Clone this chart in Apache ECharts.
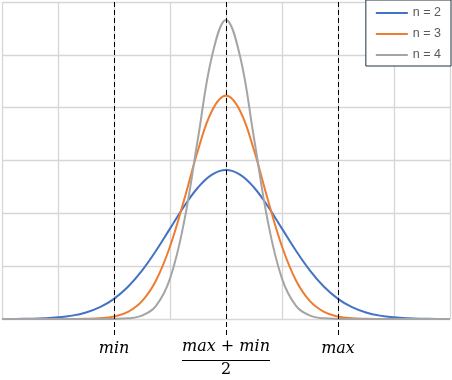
<!DOCTYPE html>
<html><head><meta charset="utf-8">
<script src="https://cdn.jsdelivr.net/npm/echarts@6/dist/echarts.min.js"></script>
<style>html,body{margin:0;padding:0;background:#fff}#c{width:452px;height:380px}</style>
</head><body><div id="c"></div>
<script>
const xValues = [-4,-3.75,-3.5,-3.25,-3,-2.75,-2.5,-2.25,-2,-1.75,-1.5,-1.25,-1,-0.75,-0.5,-0.25,0,
  0.25,0.5,0.75,1,1.25,1.5,1.75,2,2.25,2.5,2.75,3,3.25,3.5,3.75,4];
const seriesNames = ['n = 2', 'n = 3', 'n = 4'];
const n2Values = [0.0001,0.0002,0.0006,0.0014,0.0031,0.0064,0.0124,0.0224,0.0382,0.0610,0.0916,0.1291,0.1710,0.2129,0.2489,0.2733,0.2820,
  0.2733,0.2489,0.2129,0.1710,0.1291,0.0916,0.0610,0.0382,0.0224,0.0124,0.0064,0.0031,0.0014,0.0006,0.0002,0.0001];
const n3Values = [0,0,0,0,0,0.0001,0.0004,0.0014,0.0047,0.0135,0.0337,0.0729,0.1373,0.2247,0.3193,0.3943,0.4230,
  0.3943,0.3193,0.2247,0.1373,0.0729,0.0337,0.0135,0.0047,0.0014,0.0004,0.0001,0,0,0,0,0];
const n4Values = [0,0,0,0,0,0,0,0,0.0002,0.0012,0.0063,0.0248,0.0763,0.1831,0.3421,0.4977,0.5660,
  0.4977,0.3421,0.1831,0.0763,0.0248,0.0063,0.0012,0.0002,0,0,0,0,0,0,0,0];
const markerX = [-2, 0, 2];
const xTickValues = [-2, 0, 2];
const xTickLabels = [{num: 'min'}, {num: 'max + min', den: '2'}, {num: 'max'}];

const colors = ['#4472C4', '#ED7D31', '#A5A5A5'];
const allValues = [n2Values, n3Values, n4Values];

function formatLabel(value) {
  const i = xTickValues.indexOf(value);
  if (i < 0) return '';
  const lab = xTickLabels[i];
  if (!lab.den) return '{s|' + lab.num + '}';
  let num = '';
  lab.num.split(' ').forEach(p => {
    if (/^[a-z]+$/.test(p)) num += '{i|' + p + '}';
    else num += '{u|\u00A0' + p + '\u00A0}';
  });
  return num + '\n{bar|\u00A0}\n{d|' + lab.den + '}';
}

const chart = echarts.init(document.getElementById('c'), null, {renderer: 'canvas'});
const series = seriesNames.map((name, k) => ({
  name: name,
  type: 'line',
  xAxisIndex: 0, yAxisIndex: 0,
  data: xValues.map((x, j) => [x, allValues[k][j]]),
  smooth: 0.4,
  symbol: 'none',
  lineStyle: {width: 2, color: colors[k]},
  itemStyle: {color: colors[k]},
  z: 3
}));
series.push({
  type: 'line',
  xAxisIndex: 1, yAxisIndex: 1,
  data: [],
  silent: true,
  z: 10,
  markLine: {
    silent: true,
    symbol: 'none',
    label: {show: false},
    lineStyle: {color: '#000', width: 1, type: [5, 3]},
    data: markerX.map(x => ({xAxis: x}))
  }
});

chart.setOption({
  animation: false,
  backgroundColor: '#fff',
  grid: [
    {left: 2, right: 2, top: 2, bottom: 61},
    {left: 2, right: 2, top: 0, bottom: 45}
  ],
  xAxis: [
    {
      type: 'value', gridIndex: 0, min: -4, max: 4, interval: 1,
      axisLine: {show: true, lineStyle: {color: '#d9d9d9', width: 1}},
      axisTick: {show: false},
      splitLine: {show: true, lineStyle: {color: '#d6d6d6', width: 1.3}},
      axisLabel: {
        show: true,
        customValues: xTickValues,
        margin: 19,
        color: '#000',
        fontFamily: 'DejaVu Serif',
        fontSize: 16,
        formatter: formatLabel,
        rich: {
          s: {fontFamily: 'DejaVu Serif', fontStyle: 'italic', fontSize: 16, lineHeight: 21, align: 'center', color: '#000'},
          i: {fontFamily: 'DejaVu Serif', fontStyle: 'italic', fontSize: 16, lineHeight: 18, align: 'center', color: '#000'},
          u: {fontFamily: 'DejaVu Serif', fontSize: 16, lineHeight: 18, align: 'center', color: '#000'},
          bar: {width: 88, height: 1, lineHeight: 9, backgroundColor: '#000', align: 'center', fontSize: 1},
          d: {fontFamily: 'DejaVu Serif', fontSize: 16, lineHeight: 10, align: 'center', color: '#000'}
        }
      }
    },
    {type: 'value', gridIndex: 1, min: -4, max: 4, show: false}
  ],
  yAxis: [
    {
      type: 'value', gridIndex: 0, min: 0, max: 0.6, interval: 0.1,
      axisLine: {show: false}, axisTick: {show: false}, axisLabel: {show: false},
      splitLine: {show: true, lineStyle: {color: '#d6d6d6', width: 1.3}}
    },
    {type: 'value', gridIndex: 1, min: 0, max: 1, show: false}
  ],
  legend: {
    data: seriesNames,
    orient: 'vertical',
    right: 1, top: 0,
    padding: [6, 10, 4, 10],
    icon: 'rect',
    itemWidth: 32, itemHeight: 2, itemGap: 7,
    backgroundColor: '#fff',
    borderColor: '#243040', borderWidth: 1,
    textStyle: {color: '#595959', fontSize: 12.5, lineHeight: 14, fontFamily: 'Liberation Sans'},
    z: 20
  },
  series: series
});
</script>
</body></html>
